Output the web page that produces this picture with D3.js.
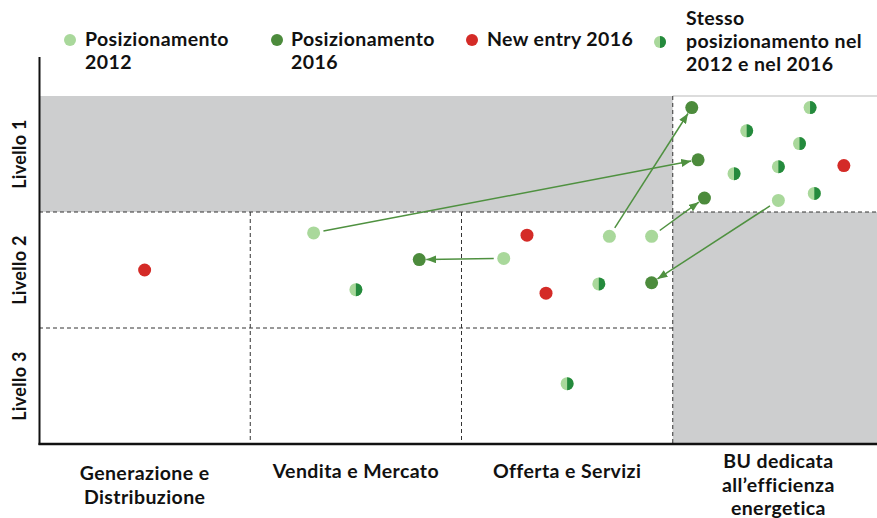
<!DOCTYPE html>
<html>
<head>
<meta charset="utf-8">
<script src="https://cdn.jsdelivr.net/npm/d3@7"></script>
<style>
  body { margin: 0; background: #fff; }
  svg { display: block; }
  text { font-family: Lato, "Open Sans", sans-serif; font-weight: 700; fill: #111; }
</style>
</head>
<body>
<svg id="chart" width="877" height="518"></svg>
<script>
// ---------- DATA ----------
const columns = [
  ["Generazione e", "Distribuzione"],
  ["Vendita e Mercato"],
  ["Offerta e Servizi"],
  ["BU dedicata", "all\u2019efficienza", "energetica"]
];
const rows = ["Livello 1", "Livello 2", "Livello 3"];

// positions in grid units: x = column (0..4), y = level (0..3 from top)
const pos2012 = [
  { id: "a", x: 1.30, y: 1.18 },
  { id: "b", x: 2.20, y: 1.40 },
  { id: "c", x: 2.70, y: 1.21 },
  { id: "d", x: 2.90, y: 1.21 },
  { id: "e", x: 3.50, y: 0.90 }
];
const pos2016 = [
  { id: "a", x: 3.12, y: 0.55 },
  { id: "b", x: 1.80, y: 1.41 },
  { id: "c", x: 3.09, y: 0.10 },
  { id: "d", x: 3.15, y: 0.88 },
  { id: "e", x: 2.90, y: 1.61 }
];
const newEntry2016 = [
  { x: 0.50, y: 1.50 },
  { x: 2.31, y: 1.20 },
  { x: 2.40, y: 1.70 },
  { x: 3.81, y: 0.60 }
];
const samePosition = [
  { x: 3.65, y: 0.10 },
  { x: 3.35, y: 0.30 },
  { x: 3.60, y: 0.41 },
  { x: 3.29, y: 0.67 },
  { x: 3.50, y: 0.61 },
  { x: 3.67, y: 0.84 },
  { x: 1.50, y: 1.67 },
  { x: 2.65, y: 1.62 },
  { x: 2.50, y: 2.48 }
];
const legendItems = [
  { key: "p2012", lines: ["Posizionamento", "2012"] },
  { key: "p2016", lines: ["Posizionamento", "2016"] },
  { key: "new", lines: ["New entry 2016"] },
  { key: "same", lines: ["Stesso", "posizionamento nel", "2012 e nel 2016"] }
];

// ---------- STYLE ----------
const C = {
  light: "#a9d89b",
  dark: "#4c8b3c",
  red: "#d42b27",
  halfDark: "#248a3d",
  gray: "#cdcecf",
  arrow: "#4f9140",
  dash: "#333"
};
const R = 6.5;
const FS = 19.5, LS = "0.4px";

const svg = d3.select("#chart");
const x = d3.scaleLinear().domain([0, 4]).range([39, 884]);
const y = d3.scaleLinear().domain([0, 3]).range([96, 444]);
const W = 877;

// background shading
svg.append("rect").attr("x", x(0)).attr("y", y(0))
  .attr("width", x(3) - x(0)).attr("height", y(1) - y(0)).attr("fill", C.gray);
svg.append("rect").attr("x", x(3)).attr("y", y(1))
  .attr("width", W - x(3)).attr("height", y(3) - y(1)).attr("fill", C.gray);
svg.append("line").attr("x1", x(3)).attr("x2", W).attr("y1", y(0)).attr("y2", y(0))
  .attr("stroke", "#dcdcdc").attr("stroke-width", 2);

// dashed grid
const g = svg.append("g").attr("stroke", C.dash).attr("stroke-width", 1)
  .attr("stroke-dasharray", "4,3").attr("fill", "none");
g.append("line").attr("x1", x(0)).attr("x2", W).attr("y1", y(1)).attr("y2", y(1));
g.append("line").attr("x1", x(0)).attr("x2", x(3)).attr("y1", y(2)).attr("y2", y(2));
[1, 2].forEach(c => g.append("line").attr("x1", x(c)).attr("x2", x(c)).attr("y1", y(1)).attr("y2", y(3)));
g.append("line").attr("x1", x(3)).attr("x2", x(3)).attr("y1", y(0)).attr("y2", y(3));

// axes lines
svg.append("line").attr("x1", x(0) + 0.5).attr("x2", x(0) + 0.5).attr("y1", 57).attr("y2", y(3) + 1)
  .attr("stroke", "#111").attr("stroke-width", 2);
svg.append("line").attr("x1", x(0) - 0.5).attr("x2", W).attr("y1", y(3)).attr("y2", y(3))
  .attr("stroke", "#111").attr("stroke-width", 2.5);

// axis labels
rows.forEach((r, i) => {
  svg.append("text")
    .attr("transform", `translate(26,${y(i + 0.5)}) rotate(-90)`)
    .attr("text-anchor", "middle").attr("font-size", 18).attr("letter-spacing", "0.3px").text(r);
});
const colBase = [480, 478, 478, 468];
columns.forEach((lines, i) => {
  const t = svg.append("text").attr("text-anchor", "middle").attr("font-size", FS).attr("letter-spacing", LS);
  lines.forEach((l, j) => {
    t.append("tspan").attr("x", x(i + 0.5)).attr("y", colBase[i] + j * 23.5).text(l);
  });
});

// arrows
const defs = svg.append("defs");
defs.append("marker").attr("id", "ah").attr("markerUnits", "userSpaceOnUse")
  .attr("viewBox", "0 0 10 8").attr("refX", 10).attr("refY", 4)
  .attr("markerWidth", 10).attr("markerHeight", 8).attr("orient", "auto")
  .append("path").attr("d", "M0,0 L10,4 L0,8 Z").attr("fill", C.arrow);

const moves = pos2012.map(p => ({ from: p, to: pos2016.find(q => q.id === p.id) }));
svg.append("g").selectAll("line").data(moves).join("line")
  .each(function (d) {
    const x1 = x(d.from.x), y1 = y(d.from.y), x2 = x(d.to.x), y2 = y(d.to.y);
    const len = Math.hypot(x2 - x1, y2 - y1);
    const ux = (x2 - x1) / len, uy = (y2 - y1) / len;
    d3.select(this)
      .attr("x1", x1 + ux * 10).attr("y1", y1 + uy * 10)
      .attr("x2", x2 - ux * 7).attr("y2", y2 - uy * 7);
  })
  .attr("stroke", C.arrow).attr("stroke-width", 1.5).attr("marker-end", "url(#ah)");

// points
const halfArc = d3.arc().innerRadius(0).outerRadius(R).startAngle(0).endAngle(Math.PI);
function halfDot(sel) {
  sel.append("circle").attr("r", R).attr("fill", C.light);
  sel.append("path").attr("d", halfArc()).attr("fill", C.halfDark);
}
svg.append("g").selectAll("circle").data(pos2012).join("circle")
  .attr("cx", d => x(d.x)).attr("cy", d => y(d.y)).attr("r", R).attr("fill", C.light);
svg.append("g").selectAll("circle").data(pos2016).join("circle")
  .attr("cx", d => x(d.x)).attr("cy", d => y(d.y)).attr("r", R).attr("fill", C.dark);
svg.append("g").selectAll("circle").data(newEntry2016).join("circle")
  .attr("cx", d => x(d.x)).attr("cy", d => y(d.y)).attr("r", R).attr("fill", C.red);
svg.append("g").selectAll("g").data(samePosition).join("g")
  .attr("transform", d => `translate(${x(d.x)},${y(d.y)})`)
  .call(halfDot);

// legend
const legX = [70, 277, 472, 660];
const legTextX = [85, 291, 487, 686];
legendItems.forEach((it, i) => {
  const cy = it.key === "same" ? 42 : 40;
  const lg = svg.append("g").attr("transform", `translate(${legX[i]},${cy})`);
  if (it.key === "same") {
    lg.append("circle").attr("r", 6).attr("fill", C.light);
    lg.append("path").attr("d", d3.arc().innerRadius(0).outerRadius(6).startAngle(0).endAngle(Math.PI)()).attr("fill", C.halfDark);
  } else {
    lg.append("circle").attr("r", 6)
      .attr("fill", it.key === "p2012" ? C.light : it.key === "p2016" ? C.dark : C.red);
  }
  const base = it.key === "same" ? 25 : 46;
  const t = svg.append("text").attr("font-size", FS).attr("letter-spacing", LS);
  it.lines.forEach((l, j) => {
    t.append("tspan").attr("x", legTextX[i]).attr("y", base + j * 23).text(l);
  });
});
</script>
</body>
</html>
